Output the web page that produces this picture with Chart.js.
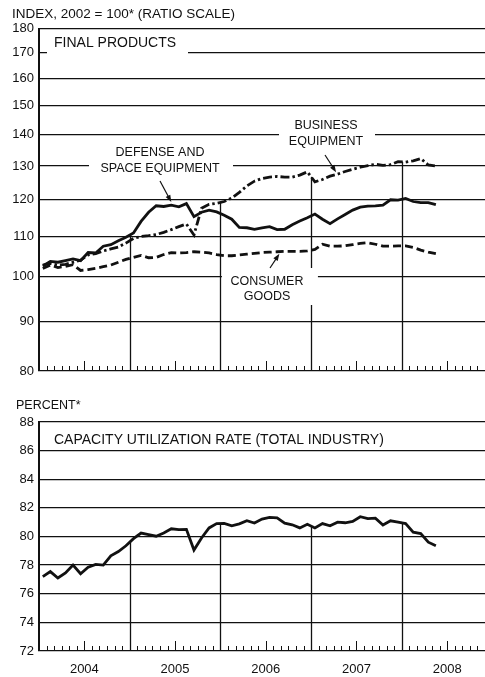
<!DOCTYPE html>
<html>
<head>
<meta charset="utf-8">
<script src="https://cdn.jsdelivr.net/npm/chart.js@4.4.0/dist/chart.umd.min.js"></script>
<style>
  html, body { margin: 0; padding: 0; background: #fff; }
  #wrap { position: relative; width: 485px; height: 677px; overflow: hidden; }
  #topBox { position: absolute; left: 0; top: 0; width: 485px; height: 385px; }
  #botBox { position: absolute; left: 0; top: 395px; width: 485px; height: 282px; }
</style>
</head>
<body>
<div id="wrap">
  <div id="topBox"><canvas id="topChart"></canvas></div>
  <div id="botBox"><canvas id="botChart"></canvas></div>
</div>
<script>
// monthly, Jan 2004 - May 2008
const months = [
  "2004-01","2004-02","2004-03","2004-04","2004-05","2004-06","2004-07","2004-08","2004-09","2004-10","2004-11","2004-12",
  "2005-01","2005-02","2005-03","2005-04","2005-05","2005-06","2005-07","2005-08","2005-09","2005-10","2005-11","2005-12",
  "2006-01","2006-02","2006-03","2006-04","2006-05","2006-06","2006-07","2006-08","2006-09","2006-10","2006-11","2006-12",
  "2007-01","2007-02","2007-03","2007-04","2007-05","2007-06","2007-07","2007-08","2007-09","2007-10","2007-11","2007-12",
  "2008-01","2008-02","2008-03","2008-04","2008-05"
];
const years = ["2004", "2005", "2006", "2007", "2008"];
const indexTicks = [80, 90, 100, 110, 120, 130, 140, 150, 160, 170, 180];
const percentTicks = [72, 74, 76, 78, 80, 82, 84, 86, 88];

const defense = [
  102.6, 103.7, 103.5, 103.9, 104.3, 103.9, 105.9, 105.8, 107.5, 107.9, 108.9, 109.8,
  110.9, 114.0, 116.5, 118.3, 118.1, 118.5, 118.0, 118.9, 115.3, 116.5, 117.1, 116.6,
  115.7, 114.6, 112.4, 112.3, 111.9, 112.3, 112.6, 111.8, 111.9, 113.1, 114.1, 115.0,
  116.0, 114.6, 113.4, 114.7, 115.9, 117.1, 117.9, 118.2, 118.3, 118.5, 120.0, 119.9,
  120.4, 119.5, 119.2, 119.2, 118.6
];
const business = [
  102.8, 103.2, 102.8, 103.0, 103.5, 104.0, 105.3, 105.6, 106.3, 106.8, 107.3, 108.3,
  109.5, 110.0, 110.2, 110.5, 111.1, 111.8, 112.6, 113.3, 110.4, 117.6, 118.7, 119.0,
  119.5, 120.5, 122.1, 124.0, 125.4, 126.2, 126.6, 126.8, 126.6, 126.6, 127.2, 128.2,
  125.2, 125.9, 126.9, 127.5, 128.3, 129.0, 129.6, 130.1, 130.5, 130.2, 130.4, 131.3,
  131.2, 131.6, 132.3, 130.3, 130.0
];
const consumer = [
  102.0, 102.8, 102.2, 102.5, 102.9, 101.5, 101.7, 102.0, 102.4, 102.8, 103.5, 104.2,
  104.7, 105.2, 104.6, 104.7, 105.4, 105.9, 105.8, 105.9, 106.1, 106.0, 105.8, 105.4,
  105.1, 105.1, 105.3, 105.5, 105.7, 105.9, 106.0, 106.1, 106.2, 106.2, 106.2, 106.3,
  106.7, 108.0, 107.5, 107.5, 107.6, 107.9, 108.2, 108.4, 108.0, 107.5, 107.5, 107.6,
  107.6, 107.2, 106.5, 106.0, 105.6
];
const capacity = [
  77.2, 77.55, 77.1, 77.45, 78.0, 77.4, 77.85, 78.05, 78.0, 78.65, 78.95, 79.35,
  79.85, 80.24, 80.13, 80.02, 80.25, 80.54, 80.48, 80.5, 79.05, 79.9, 80.6, 80.9,
  80.92, 80.74, 80.88, 81.1, 80.94, 81.22, 81.33, 81.3, 80.93, 80.82, 80.6, 80.85,
  80.6, 80.9, 80.75, 81.0, 80.96, 81.05, 81.38, 81.25, 81.28, 80.8, 81.1, 81.0,
  80.9, 80.3, 80.2, 79.6, 79.35
];

const INK = "#111";
const FONT = '"Liberation Sans", Arial, sans-serif';
Chart.defaults.font.family = FONT;
Chart.defaults.color = INK;

// x is months since Jan 2004, points sit mid-month
const toPoints = (arr) => arr.map((v, i) => ({ x: i + 0.5, y: v }));

function lineSet(label, arr, dash) {
  return {
    label: label,
    data: toPoints(arr),
    borderColor: INK,
    borderWidth: 2.8,
    borderDash: dash,
    pointRadius: 0,
    tension: 0,
    fill: false,
  };
}

function strokeLine(ctx, x1, y1, x2, y2) {
  ctx.beginPath();
  ctx.moveTo(x1, y1);
  ctx.lineTo(x2, y2);
  ctx.stroke();
}

function arrow(ctx, x1, y1, x2, y2) {
  const ang = Math.atan2(y2 - y1, x2 - x1);
  ctx.lineWidth = 1.2;
  strokeLine(ctx, x1, y1, x2 - 4 * Math.cos(ang), y2 - 4 * Math.sin(ang));
  ctx.beginPath();
  ctx.moveTo(x2, y2);
  ctx.lineTo(x2 - 7 * Math.cos(ang) + 2.6 * Math.sin(ang), y2 - 7 * Math.sin(ang) - 2.6 * Math.cos(ang));
  ctx.lineTo(x2 - 7 * Math.cos(ang) - 2.6 * Math.sin(ang), y2 - 7 * Math.sin(ang) + 2.6 * Math.cos(ang));
  ctx.closePath();
  ctx.fill();
}

// month ticks along the bottom, year lines up to the highest series
function frameMarks(seriesList) {
  return {
    id: "frameMarks",
    beforeDatasetsDraw(chart) {
      const { ctx, chartArea: a, scales: { x, y } } = chart;
      ctx.save();
      ctx.strokeStyle = INK;
      for (let m = 1; m < x.max; m++) {
        const px = Math.round(x.getPixelForValue(m)) + 0.5;
        if (m % 12 === 0) {
          let top = a.bottom;
          seriesList.forEach((s) => {
            if (m < s.length) {
              const py = (y.getPixelForValue(s[m - 1]) + y.getPixelForValue(s[m])) / 2;
              top = Math.min(top, py);
            }
          });
          ctx.lineWidth = 1.3;
          strokeLine(ctx, px, a.bottom, px, top);
        } else {
          ctx.lineWidth = 1;
          strokeLine(ctx, px, a.bottom, px, a.bottom - (m % 12 === 6 ? 10 : 5));
        }
      }
      ctx.restore();
    },
  };
}

const topNotes = {
  id: "topNotes",
  beforeDatasetsDraw(chart) {
    const { ctx, scales: { x, y } } = chart;
    ctx.save();
    // white gaps in the grid behind the labels
    ctx.fillStyle = "#fff";
    ctx.fillRect(47, 34, 141, 20);
    ctx.fillRect(89, 145, 144, 31);
    ctx.fillRect(279, 119, 96, 30);
    ctx.fillRect(x.getPixelForValue(24) + 1.5, 268, 96, 37);

    ctx.fillStyle = INK;
    ctx.strokeStyle = INK;
    ctx.textBaseline = "middle";
    ctx.textAlign = "left";
    ctx.font = "13.5px " + FONT;
    ctx.fillText("INDEX, 2002 = 100* (RATIO SCALE)", 12, 14);
    ctx.font = "14px " + FONT;
    ctx.fillText("FINAL PRODUCTS", 54, 43);

    ctx.textAlign = "center";
    ctx.font = "12.5px " + FONT;
    ctx.fillText("DEFENSE AND", 160, 153);
    ctx.fillText("SPACE EQUIPMENT", 160, 169);
    ctx.fillText("BUSINESS", 326, 126);
    ctx.fillText("EQUIPMENT", 326, 142);
    ctx.fillText("CONSUMER", 267, 282);
    ctx.fillText("GOODS", 267, 297);

    arrow(ctx, 160, 181, x.getPixelForValue(17.5), y.getPixelForValue(defense[17]) - 3);
    arrow(ctx, 325, 155, x.getPixelForValue(39.3), y.getPixelForValue(business[39]) - 2);
    arrow(ctx, 270, 268, x.getPixelForValue(31.8), y.getPixelForValue(consumer[31]) + 2);
    ctx.restore();
  },
};

const botNotes = {
  id: "botNotes",
  beforeDatasetsDraw(chart) {
    const { ctx } = chart;
    ctx.save();
    ctx.fillStyle = INK;
    ctx.textBaseline = "middle";
    ctx.textAlign = "left";
    ctx.font = "12.5px " + FONT;
    ctx.fillText("PERCENT*", 16, 11);
    ctx.font = "14px " + FONT;
    ctx.fillText("CAPACITY UTILIZATION RATE (TOTAL INDUSTRY)", 54, 45);
    ctx.restore();
  },
};

const gridStyle = { color: INK, lineWidth: 1.3, drawTicks: false };
const tickFont = { size: 13 };

new Chart(document.getElementById("topChart"), {
  type: "line",
  data: {
    datasets: [
      lineSet("Defense and space equipment", defense, []),
      lineSet("Business equipment", business, [9, 3, 2.5, 3]),
      lineSet("Consumer goods", consumer, [8, 4]),
    ],
  },
  options: {
    responsive: true,
    maintainAspectRatio: false,
    animation: false,
    layout: { padding: { top: 28.5, bottom: 14, left: 0, right: 0 } },
    plugins: { legend: { display: false }, tooltip: { enabled: false } },
    scales: {
      x: { type: "linear", min: 0, max: 59, display: false },
      y: {
        type: "logarithmic",
        min: 80,
        max: 180,
        afterBuildTicks: (s) => { s.ticks = indexTicks.map((v) => ({ value: v })); },
        afterFit: (s) => { s.width = 39; },
        ticks: { font: tickFont, color: INK, padding: 5, callback: (v) => String(v) },
        grid: gridStyle,
        border: { display: true, color: INK, width: 2 },
      },
    },
  },
  plugins: [frameMarks([defense, business, consumer]), topNotes],
});

new Chart(document.getElementById("botChart"), {
  type: "line",
  data: {
    datasets: [lineSet("Capacity utilization rate (total industry)", capacity, [])],
  },
  options: {
    responsive: true,
    maintainAspectRatio: false,
    animation: false,
    layout: { padding: { top: 27, bottom: 0, left: 0, right: 0 } },
    plugins: { legend: { display: false }, tooltip: { enabled: false } },
    scales: {
      x: {
        type: "linear",
        min: 0,
        max: 59,
        afterBuildTicks: (s) => { s.ticks = years.map((_, i) => ({ value: i * 12 + 6 })); },
        afterFit: (s) => { s.height = 26; },
        ticks: {
          font: tickFont,
          color: INK,
          padding: 3,
          autoSkip: false,
          maxRotation: 0,
          callback: (v, i) => years[i],
        },
        grid: { display: false },
        border: { display: false },
      },
      y: {
        min: 72,
        max: 88,
        afterBuildTicks: (s) => { s.ticks = percentTicks.map((v) => ({ value: v })); },
        afterFit: (s) => { s.width = 39; },
        ticks: { font: tickFont, color: INK, padding: 5 },
        grid: gridStyle,
        border: { display: true, color: INK, width: 2 },
      },
    },
  },
  plugins: [frameMarks([capacity]), botNotes],
});
</script>
</body>
</html>
